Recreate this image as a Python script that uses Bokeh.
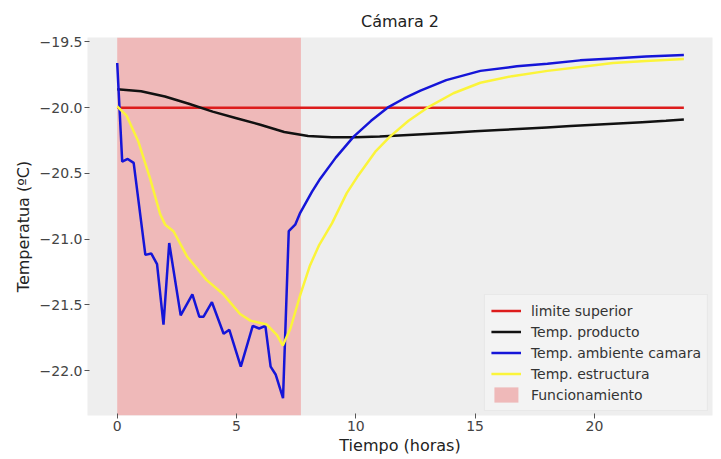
from bokeh.plotting import figure
from bokeh.models import Range1d, FixedTicker, Legend, LegendItem
from bokeh.embed import file_html
from bokeh.resources import INLINE

# ---- data ----
horas_producto = [0, 1, 2, 3, 4, 5, 6, 7, 8, 9, 10, 11, 12, 13, 14, 15, 16, 17, 18,
                  19, 20, 21, 22, 23, 23.75]
temp_producto = [-19.86, -19.875, -19.915, -19.97, -20.03, -20.08, -20.13, -20.185,
                 -20.215, -20.225, -20.225, -20.22, -20.21, -20.20, -20.19, -20.18,
                 -20.17, -20.16, -20.15, -20.14, -20.13, -20.12, -20.11, -20.10, -20.09]

horas_ambiente = [0.0, 0.21, 0.44, 0.69, 1.18, 1.43, 1.67, 1.94, 2.18, 2.66, 3.15, 3.44,
                  3.62, 3.97, 4.46, 4.70, 5.18, 5.68, 5.95, 6.21, 6.43, 6.64, 6.95, 7.19,
                  7.46, 7.67, 8.16, 8.51, 9.16, 9.91, 10.64, 11.33, 12.02, 12.71, 13.79,
                  15.22, 16.75, 18.03, 19.40, 20.78, 22.16, 23.75]
temp_ambiente = [-19.66, -20.41, -20.39, -20.42, -21.12, -21.11, -21.19, -21.65, -21.03,
                 -21.58, -21.42, -21.59, -21.59, -21.48, -21.72, -21.69, -21.97, -21.66,
                 -21.68, -21.66, -21.97, -22.03, -22.21, -20.94, -20.89, -20.80, -20.64,
                 -20.54, -20.38, -20.22, -20.10, -20.00, -19.93, -19.87, -19.79, -19.72,
                 -19.685, -19.665, -19.64, -19.625, -19.61, -19.60]

horas_estructura = [0.0, 0.39, 0.89, 1.38, 1.80, 2.01, 2.36, 2.92, 3.74, 4.45, 5.15, 5.58,
                    6.27, 6.70, 6.94, 7.26, 7.68, 8.08, 8.45, 9.0, 9.62, 10.05, 10.84,
                    11.43, 12.21, 13.0, 14.09, 15.22, 16.55, 18.03, 19.40, 20.78, 22.16,
                    23.75]
temp_estructura = [-19.99, -20.06, -20.26, -20.54, -20.81, -20.89, -20.94, -21.13, -21.31,
                   -21.42, -21.57, -21.62, -21.65, -21.73, -21.81, -21.68, -21.42, -21.20,
                   -21.05, -20.88, -20.65, -20.53, -20.33, -20.22, -20.10, -20.00, -19.89,
                   -19.81, -19.76, -19.72, -19.69, -19.66, -19.645, -19.63]

limite_horas = [0, 23.75]
limite_valor = [-20.0, -20.0]

func_inicio = [0.0]
func_fin = [7.7]

x_ticks = [0, 5, 10, 15, 20]
y_ticks = [-22.0, -21.5, -21.0, -20.5, -20.0, -19.5]
y_tick_labels = ["\u221222.0", "\u221221.5", "\u221221.0", "\u221220.5", "\u221220.0", "\u221219.5"]

# ---- layout constants ----
X_LO, X_HI = -1.245, 24.95
Y_LO, Y_HI = -22.342, -19.466
FONT = "DejaVu Sans"

p = figure(width=713, height=459, output_backend="svg", toolbar_location=None,
           x_range=Range1d(X_LO, X_HI), y_range=Range1d(Y_LO, Y_HI),
           min_border_left=87, min_border_right=1, min_border_top=37, min_border_bottom=44)

p.background_fill_color = "#eeeeee"
p.border_fill_color = "white"
p.outline_line_color = None
p.xgrid.visible = False
p.ygrid.visible = False

p.title.text = "C\u00e1mara 2"
p.title.align = "center"
p.title.text_font = FONT
p.title.text_font_size = "16px"
p.title.text_font_style = "normal"
p.title.text_color = "#222222"
p.title.standoff = 14

span = p.quad(left=func_inicio, right=func_fin, bottom=[Y_LO], top=[Y_HI],
              fill_color="#efb9b9", line_color=None)
r_lim = p.line(limite_horas, limite_valor, line_color="#dd1c1c", line_width=2.5)
r_prod = p.line(horas_producto, temp_producto, line_color="#111111", line_width=2.5)
r_amb = p.line(horas_ambiente, temp_ambiente, line_color="#1515d8", line_width=2.5)
r_est = p.line(horas_estructura, temp_estructura, line_color="#fbf43a", line_width=2.5)

p.xaxis.ticker = FixedTicker(ticks=x_ticks)
p.yaxis.ticker = FixedTicker(ticks=y_ticks)
p.yaxis.major_label_overrides = {t: l for t, l in zip(y_ticks, y_tick_labels)}

for ax in (p.xaxis[0], p.yaxis[0]):
    ax.axis_line_color = None
    ax.major_tick_line_color = "#555555"
    ax.major_tick_out = 3
    ax.major_tick_in = 2
    ax.minor_tick_out = 0
    ax.minor_tick_in = 0
    ax.major_label_text_font = FONT
    ax.major_label_text_font_size = "14px"
    ax.major_label_text_color = "#444444"
    ax.axis_label_text_font = FONT
    ax.axis_label_text_font_size = "16px"
    ax.axis_label_text_font_style = "normal"
    ax.axis_label_text_color = "#222222"

p.xaxis.axis_label = "Tiempo (horas)"
p.yaxis.axis_label = "Temperatua (\u00baC)"
p.xaxis.major_label_standoff = 2
p.xaxis.axis_label_standoff = 2
p.yaxis.major_label_standoff = 2
p.yaxis.axis_label_standoff = 4

legend = Legend(items=[
    LegendItem(label="limite superior", renderers=[r_lim]),
    LegendItem(label="Temp. producto", renderers=[r_prod]),
    LegendItem(label="Temp. ambiente camara", renderers=[r_amb]),
    LegendItem(label="Temp. estructura", renderers=[r_est]),
    LegendItem(label="Funcionamiento", renderers=[span]),
], location="bottom_right")
legend.margin = 4
legend.padding = 6
legend.spacing = 2
legend.label_height = 19
legend.glyph_height = 19
legend.glyph_width = 30
legend.label_standoff = 10
legend.label_text_font = FONT
legend.label_text_font_size = "14px"
legend.label_text_color = "#333333"
legend.background_fill_color = "#f3f3f3"
legend.background_fill_alpha = 1.0
legend.border_line_color = "#dddddd"
p.add_layout(legend, "center")

open("out.html", "w").write(file_html(p, INLINE))
